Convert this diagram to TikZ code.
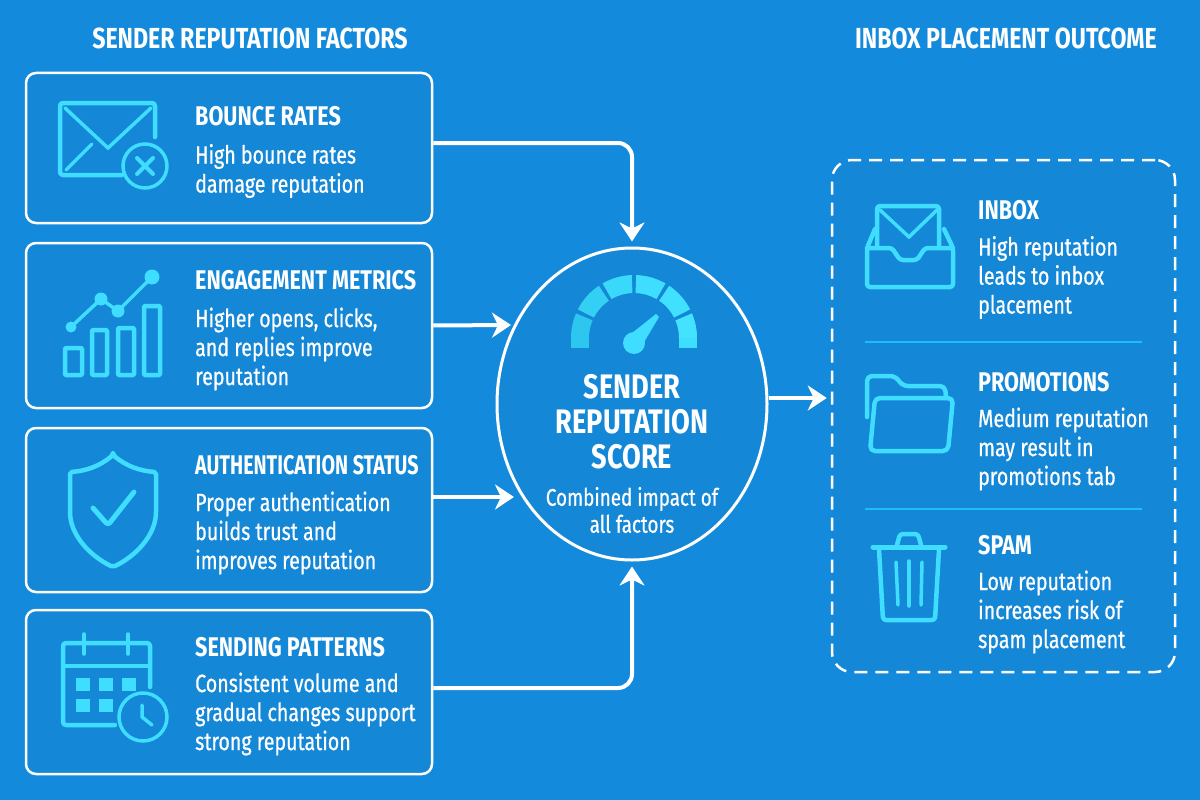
\documentclass[tikz,border=0pt]{standalone}
\usepackage{fontspec}
\usetikzlibrary{arrows.meta, positioning, shapes.geometric}
\setmainfont[FakeStretch=0.8]{Fira Sans}
\newfontfamily\bodyfont[FakeStretch=0.785,FakeBold=0.7]{Fira Sans}
\newfontfamily\tightfont[FakeStretch=0.73]{Fira Sans}

\definecolor{bgblue}{HTML}{148ADC}
\definecolor{boxblue}{HTML}{1487D7}
\definecolor{iconcyan}{HTML}{3FDDFF}
\definecolor{gaugeleft}{HTML}{2CC6EE}
\definecolor{rulecyan}{HTML}{1DBDF5}

\tikzset{
    factorbox/.style={draw=white, fill=boxblue, line width=2.5pt, rounded corners=10pt,
        minimum width=406pt, inner sep=0pt},
    flow/.style={draw=white, line width=4pt, rounded corners=14pt,
        -{Stealth[length=19pt,width=25pt,inset=6pt]}},
    sectiontitle/.style={text=white, font=\fontsize{29}{32}\selectfont\bfseries, inner sep=0pt},
    head/.style={text=white, anchor=west, font=\fontsize{27}{30}\selectfont\bfseries, inner sep=0pt},
    body/.style={text=white, anchor=west, align=left, font=\fontsize{25}{29}\selectfont\bodyfont, inner sep=0pt},
    icon/.style={draw=iconcyan, line width=4.5pt, line join=round, line cap=round, rounded corners=3pt},
    iconthin/.style={draw=iconcyan, line width=3.5pt, line cap=round},
    iconfill/.style={fill=iconcyan},
}

\begin{document}
\begin{tikzpicture}[x=1pt, y=-1pt]

\useasboundingbox (0,0) rectangle (1200,800);
\fill[bgblue] (0,0) rectangle (1200,800);

% Section titles
\node[sectiontitle] (factors) at (250,38) {SENDER REPUTATION FACTORS};
\node[sectiontitle] (placement) at (1006,38) {INBOX PLACEMENT OUTCOME};

% Factor boxes
\node[factorbox, minimum height=150pt] (bounce) at (229,148) {};
\node[factorbox, minimum height=165pt] (engage) at (229,325.5) {};
\node[factorbox, minimum height=164pt] (auth) at (229,510) {};
\node[factorbox, minimum height=164pt] (sending) at (229,692) {};

% Score and outcome
\node[ellipse, draw=white, fill=boxblue, line width=3pt, inner sep=0pt,
    minimum width=270pt, minimum height=312pt] (score) at (632,404) {};
\node[draw=white, fill=boxblue, line width=2.5pt, dash pattern=on 13pt off 8pt,
    rounded corners=20pt, inner sep=0pt, minimum width=343pt, minimum height=512pt] (outcome) at (1003.5,416) {};

% Free arrow ends beside the ellipse
\coordinate (engagein) at (511,325);
\coordinate (authin) at (514,497);

% Arrows
\draw[flow, shorten >=5pt] ([yshift=5pt]bounce.east) -| (score.north);
\draw[flow] (engage.east) -- (engagein);
\draw[flow] ([yshift=13pt]auth.east) -- (authin);
\draw[flow, shorten >=5pt] ([yshift=4pt]sending.east) -| (score.south);
\draw[flow, shorten >=4pt] ([yshift=6pt]score.east) -- ([yshift=6pt]score.east -| outcome.west);

% Factor texts
\node[head] (bouncehead) at (195,116) {BOUNCE RATES};
\node[body] (bouncebody) at (195,171) {High bounce rates\\damage reputation};
\node[head] (engagehead) at (195,280) {ENGAGEMENT METRICS};
\node[body] (engagebody) at (195,349) {Higher opens, clicks,\\and replies improve\\reputation};
\node[head] (authhead) at (195,465) {{\tightfont\bfseries AUTHENTICATION STATUS}};
\node[body] (authbody) at (195,533) {Proper authentication\\builds trust and\\improves reputation};
\node[head] (sendinghead) at (195,647) {SENDING PATTERNS};
\node[body] (sendingbody) at (195,714) {Consistent volume and\\gradual changes support\\strong reputation};

% Envelope icon
\draw[icon] (122,175) -- (60,175) -- (60,103) -- (155,103) -- (155,137);
\draw[iconthin] (65,108) -- (108,148) -- (151,108);
\draw[iconthin] (66,170) -- (92,144);
\draw[iconthin] (145,166) circle (22pt);
\draw[iconthin, line width=4pt] (137,158) -- (153,174);
\draw[iconthin, line width=4pt] (153,158) -- (137,174);

% Chart icon
\draw[icon, rounded corners=1pt] (65,348) rectangle (82,375);
\draw[icon, rounded corners=1pt] (92,330) rectangle (107,375);
\draw[icon, rounded corners=1pt] (118,328) rectangle (134,375);
\draw[icon, rounded corners=1pt] (144,306) rectangle (160,375);
\draw[iconthin] (71,327) -- (101,299) -- (118,311) -- (152,277);
\fill[iconfill] (71,327) circle (5.5pt) (101,299) circle (6.5pt) (118,311) circle (6.5pt) (152,277) circle (7.5pt);

% Shield icon
\draw[icon, rounded corners=2pt] (113,455) .. controls (100,466) and (86,471) .. (70,472)
    -- (70,510) .. controls (70,535) and (90,556) .. (113,567)
    .. controls (136,556) and (156,535) .. (156,510) -- (156,472)
    .. controls (140,471) and (126,466) .. (113,455) -- cycle;
\draw[icon, line width=5pt] (93,508) -- (108,525) -- (134,492);

% Calendar icon
\draw[icon] (115,725) -- (63,725) -- (63,643) -- (150,643) -- (150,687);
\draw[iconthin] (63,666) -- (150,666);
\draw[iconthin] (84,634) -- (84,654);
\draw[iconthin] (128,634) -- (128,654);
\foreach \px/\py in {76/678, 99/678, 122/678, 76/699, 99/699}
    \fill[iconfill] (\px,\py) rectangle ++(13.5,13);
\fill[boxblue] (143,717) circle (27pt);
\draw[iconthin] (143,717) circle (24pt);
\draw[iconthin] (142,705) -- (142,717) -- (152,725);

% Gauge icon
\foreach \a/\b/\c in {157/180/2CC6EE, 124/153/33D0F4, 92/120/3AD8FA, 60/88/3FDDFF, 27/56/42E0FF, 0/23/45E2FF}{
    \definecolor{segcol}{HTML}{\c}
    \fill[segcol] ([shift={(\a:63pt)}]634,338) arc[start angle=\a, end angle=\b, radius=63pt]
        -- ([shift={(\b:45pt)}]634,338) arc[start angle=\b, end angle=\a, radius=45pt] -- cycle;
}
\fill[gaugeleft] (571,338) rectangle (589,348);
\fill[iconfill] (679,338) rectangle (697,348);
\fill[iconfill] (634,343) circle (11pt);
\fill[iconfill] (627,337) -- (656,314) -- (659,317) -- (640,349) -- cycle;

% Score texts
\node[text=white, font=\fontsize{34}{35}\selectfont\bfseries, align=center, inner sep=0pt] (scorehead) at (632,422)
    {SENDER\\REPUTATION\\SCORE};
\node[text=white, font=\fontsize{24}{27}\selectfont\bodyfont, align=center, inner sep=0pt] (scorebody) at (632,510)
    {Combined impact of\\all factors};

% Outcome rules
\coordinate (ruleAl) at (865,342);
\coordinate (ruleAr) at (1142,342);
\coordinate (ruleBl) at (865,509);
\coordinate (ruleBr) at (1142,509);
\draw[rulecyan, line width=2.5pt] (ruleAl) -- (ruleAr);
\draw[rulecyan, line width=2.5pt] (ruleBl) -- (ruleBr);

% Outcome texts
\node[head] (inboxhead) at (978,210) {INBOX};
\node[body] (inboxbody) at (978,277.5) {High reputation\\leads to inbox\\placement};
\node[head] (promohead) at (978,382) {PROMOTIONS};
\node[body] (promobody) at (978,449) {Medium reputation\\may result in\\promotions tab};
\node[head] (spamhead) at (978,545) {SPAM};
\node[body] (spambody) at (978,612) {Low reputation\\increases risk of\\spam placement};

% Inbox icon
\draw[icon] (877,248) -- (877,206) -- (939,206) -- (939,248);
\draw[iconthin] (880,210) -- (909,237) -- (937,210);
\draw[icon] (875,229) -- (867,248) -- (867,287) -- (953,287) -- (953,248) -- (944,229);
\draw[icon] (867,248) -- (892,248) -- (900,260) -- (917,260) -- (925,248) -- (953,248);

% Folder icon
\draw[icon, rounded corners=5pt] (867,417) -- (867,376) -- (895,376) -- (903,386) -- (945,386) -- (946,398);
\draw[icon, rounded corners=5pt] (875,398) -- (953,398) -- (948,451) -- (870,451) -- cycle;

% Trash icon
\draw[iconthin, line width=5pt] (873,547) -- (945,547);
\draw[icon] (897,545) -- (900,534) -- (918,534) -- (921,545);
\draw[icon] (879,549) -- (883,620) -- (935,620) -- (939,549);
\draw[iconthin] (896,562) -- (898,605);
\draw[iconthin] (909,561) -- (909,606);
\draw[iconthin] (922,562) -- (921,605);

\end{tikzpicture}
\end{document}
